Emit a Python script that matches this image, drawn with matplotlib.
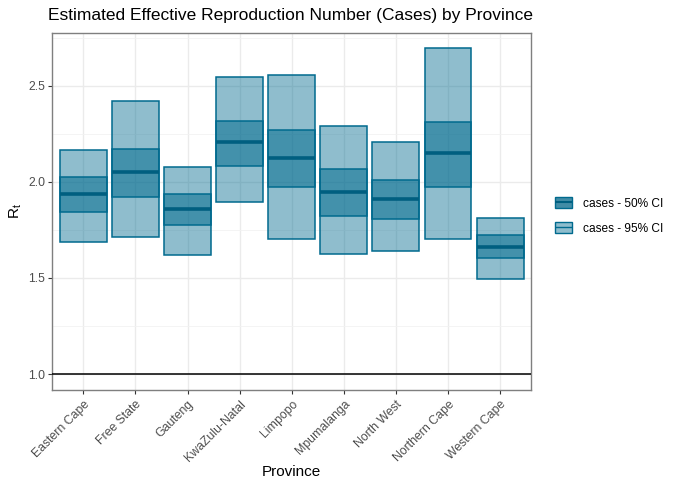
import matplotlib.pyplot as plt
from matplotlib.patches import Rectangle, Patch
from matplotlib.lines import Line2D

plt.rcParams['font.family'] = ['Liberation Sans', 'DejaVu Sans']
plt.rcParams['mathtext.fontset'] = 'custom'
plt.rcParams['mathtext.rm'] = 'Liberation Sans'

provinces = ['Eastern Cape', 'Free State', 'Gauteng', 'KwaZulu-Natal', 'Limpopo',
             'Mpumalanga', 'North West', 'Northern Cape', 'Western Cape']
median = [1.934, 2.050, 1.856, 2.206, 2.123, 1.946, 1.910, 2.149, 1.660]
lo50 = [1.844, 1.919, 1.776, 2.083, 1.971, 1.823, 1.808, 1.971, 1.603]
hi50 = [2.024, 2.173, 1.936, 2.317, 2.272, 2.066, 2.007, 2.309, 1.721]
lo95 = [1.688, 1.711, 1.619, 1.893, 1.704, 1.624, 1.641, 1.700, 1.494]
hi95 = [2.165, 2.421, 2.078, 2.543, 2.558, 2.291, 2.208, 2.697, 1.811]

base = '#006a8e'
light = '#8ebdcd'
dark = '#428ca6'

fig = plt.figure(figsize=(6.8, 4.86), dpi=100)
ax = fig.add_axes([0.0765, 0.1975, 0.705, 0.735])

w = 0.9
for i in range(len(provinces)):
    # 95% interval
    ax.add_patch(Rectangle((i - w / 2, lo95[i]), w, hi95[i] - lo95[i],
                           facecolor=base, alpha=0.44, edgecolor='none', zorder=3))
    ax.add_patch(Rectangle((i - w / 2, lo95[i]), w, hi95[i] - lo95[i],
                           facecolor='none', edgecolor=base, lw=1.1, zorder=4))
    # 50% interval
    ax.add_patch(Rectangle((i - w / 2, lo50[i]), w, hi50[i] - lo50[i],
                           facecolor=base, alpha=0.53, edgecolor='none', zorder=3))
    ax.add_patch(Rectangle((i - w / 2, lo50[i]), w, hi50[i] - lo50[i],
                           facecolor='none', edgecolor=base, lw=1.1, zorder=4))
    ax.plot([i - w / 2, i + w / 2], [median[i], median[i]], color='#005f80',
            lw=2.6, solid_capstyle='butt', zorder=5)

ax.axhline(1.0, color='black', lw=1.1, zorder=6)

ax.set_xlim(-0.6, len(provinces) - 0.4)
ax.set_ylim(0.917, 2.775)
ax.set_xticks(range(len(provinces)))
ax.set_xticklabels(provinces, rotation=45, ha='right', va='top',
                   rotation_mode='anchor', fontsize=8.8, color='#4d4d4d')
ax.set_yticks([1.0, 1.5, 2.0, 2.5])
ax.set_yticklabels(['1.0', '1.5', '2.0', '2.5'], fontsize=8.8, color='#4d4d4d')
ax.set_yticks([1.25, 1.75, 2.25, 2.75], minor=True)
ax.tick_params(axis='both', which='major', length=3, width=0.8, color='#333333', pad=2)
ax.tick_params(axis='both', which='minor', length=0)
ax.tick_params(axis='x', pad=3)

ax.grid(True, which='major', color='#ebebeb', lw=1.0, zorder=0)
ax.grid(True, which='minor', axis='y', color='#f2f2f2', lw=0.6, zorder=0)
ax.set_axisbelow(True)
for s in ax.spines.values():
    s.set_color('#7f7f7f')
    s.set_linewidth(1.0)

ax.set_xlabel('Province', fontsize=11, labelpad=1)
ax.set_ylabel(r'$\mathregular{R_t}$', fontsize=11, labelpad=3)
ax.set_title('Estimated Effective Reproduction Number (Cases) by Province',
             fontsize=12.5, loc='left', x=-0.008, pad=9)

handles = [
    (Patch(facecolor=dark, edgecolor=base, lw=1.0),
     Line2D([], [], color='#005f80', lw=1.5, solid_capstyle='butt')),
    (Patch(facecolor=light, edgecolor=base, lw=1.0),
     Line2D([], [], color=base, lw=1.0, solid_capstyle='butt')),
]
fig.legend(handles, ['cases - 50% CI', 'cases - 95% CI'], loc='center left',
           bbox_to_anchor=(0.8, 0.556), frameon=False, fontsize=8.6,
           handlelength=1.45, handleheight=1.1, labelspacing=1.0, handletextpad=0.9)

fig.savefig('out.png', dpi=100)
